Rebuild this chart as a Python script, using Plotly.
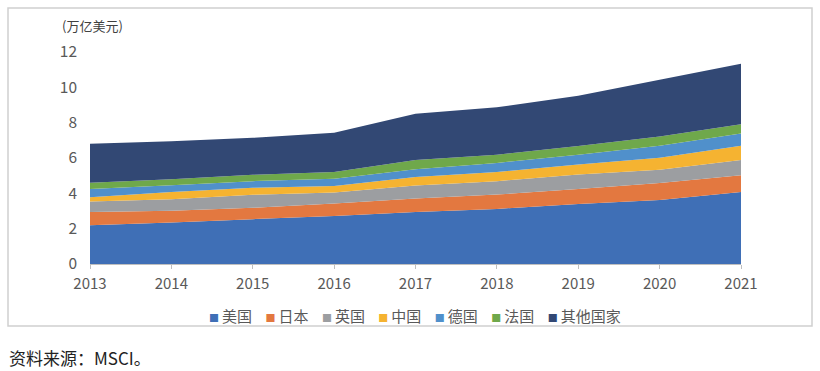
import plotly.graph_objects as go

years = [2013, 2014, 2015, 2016, 2017, 2018, 2019, 2020, 2021]
series_names = ["美国", "日本", "英国", "中国", "德国", "法国", "其他国家"]
us      = [2.20, 2.35, 2.54, 2.71, 2.95, 3.12, 3.39, 3.62, 4.08]
japan   = [0.75, 0.66, 0.64, 0.71, 0.76, 0.81, 0.86, 0.96, 0.95]
uk      = [0.59, 0.66, 0.74, 0.63, 0.73, 0.76, 0.81, 0.76, 0.86]
china   = [0.24, 0.40, 0.39, 0.37, 0.49, 0.52, 0.57, 0.68, 0.81]
germany = [0.46, 0.39, 0.38, 0.40, 0.44, 0.51, 0.56, 0.68, 0.68]
france  = [0.36, 0.34, 0.36, 0.39, 0.51, 0.47, 0.49, 0.51, 0.53]
others  = [2.20, 2.15, 2.09, 2.22, 2.63, 2.68, 2.85, 3.22, 3.42]
y_ticks = [0, 2, 4, 6, 8, 10, 12]

series_values = [us, japan, uk, china, germany, france, others]
colors = ["#3F6FB6", "#E37840", "#9C9EA1", "#F5B331", "#5090CB", "#6FA84B", "#324874"]

FONT = "Noto Sans CJK SC"
TICK_COLOR = "#595959"

fig = go.Figure()
for name, vals, col in zip(series_names, series_values, colors):
    fig.add_trace(go.Scatter(
        x=years, y=vals, name=name, stackgroup="one", mode="none",
        fillcolor=col, line=dict(width=0), showlegend=False,
    ))

L, R, T, B = 90, 79, 52, 107
W, H = 820, 371
pw, ph = W - L - R, H - T - B

def px_x(p):
    return (p - L) / pw

def px_y(p):
    return (H - B - p) / ph

fig.update_layout(
    width=W, height=H,
    margin=dict(l=L, r=R, t=T, b=B, autoexpand=False),
    paper_bgcolor="white", plot_bgcolor="white",
    font=dict(family=FONT, color=TICK_COLOR, size=14),
    showlegend=False,
    xaxis=dict(
        range=[2013, 2021], tickvals=years, ticktext=[str(y) for y in years],
        showgrid=False, zeroline=False, showline=True, linecolor="#BFBFBF", linewidth=1,
        ticks="outside", ticklen=4, tickcolor="#BFBFBF", ticklabelstandoff=2,
        tickfont=dict(size=15, color=TICK_COLOR, family=FONT),
    ),
    yaxis=dict(
        range=[0, 12], tickvals=y_ticks, showgrid=False, zeroline=False, showline=False,
        tickfont=dict(size=15.5, color=TICK_COLOR, family=FONT), ticklabelstandoff=12,
    ),
)

fig.add_shape(
    type="rect", xref="paper", yref="paper",
    x0=px_x(8), x1=px_x(812), y0=px_y(326), y1=px_y(8),
    line=dict(color="#D0D0D0", width=1.5), fillcolor="rgba(0,0,0,0)", layer="below",
)

# legend built as one rich-text line: coloured square + name
parts = []
for name, col in zip(series_names, colors):
    parts.append(f"<span style='color:{col};font-size:10px'>■</span>&#8201;{name}")
legend_text = "&nbsp;&nbsp;&nbsp;&nbsp;".join(parts)
fig.add_annotation(
    text=legend_text, xref="paper", yref="paper", x=px_x(415), y=px_y(315),
    xanchor="center", yanchor="middle", showarrow=False,
    font=dict(size=15, color=TICK_COLOR, family=FONT),
)

fig.add_annotation(
    text="(万亿美元)", xref="paper", yref="paper", x=px_x(60), y=px_y(26),
    xanchor="left", yanchor="middle", showarrow=False,
    font=dict(size=13, color="#404040", family=FONT),
)
fig.add_annotation(
    text="资料来源：MSCI。", xref="paper", yref="paper", x=px_x(7), y=px_y(357),
    xanchor="left", yanchor="middle", showarrow=False,
    font=dict(size=17, color="#222222", family=FONT),
)

fig.write_html(
    "out.html",
    config={"displayModeBar": False},
    post_script="document.body.style.margin='0';document.body.style.overflow='hidden';",
)
